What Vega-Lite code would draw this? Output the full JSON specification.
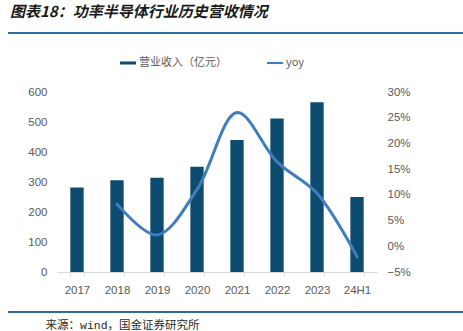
{
  "$schema": "https://vega.github.io/schema/vega-lite/v6.json",
  "autosize": "none",
  "width": 320,
  "height": 180,
  "padding": {"left": 57, "top": 92, "right": 86, "bottom": 59},
  "background": "white",
  "config": {
    "view": {"stroke": null},
    "font": "Liberation Sans",
    "axis": {"labelFont": "Liberation Sans", "labelColor": "#595959", "labelFontSize": 11.5}
  },
  "title": {
    "text": "图表18：功率半导体行业历史营收情况",
    "anchor": "start",
    "frame": "group",
    "font": "Noto Sans CJK SC",
    "fontSize": 15,
    "fontWeight": "bold",
    "fontStyle": "italic",
    "color": "#1a1a1a",
    "dx": -47,
    "offset": 12
  },
  "data": {
    "values": [
      {"year": "2017", "rev": 282, "yoy": null},
      {"year": "2018", "rev": 306, "yoy": 0.082},
      {"year": "2019", "rev": 314, "yoy": 0.022},
      {"year": "2020", "rev": 351, "yoy": 0.110},
      {"year": "2021", "rev": 440, "yoy": 0.260},
      {"year": "2022", "rev": 512, "yoy": 0.164},
      {"year": "2023", "rev": 566, "yoy": 0.103},
      {"year": "24H1", "rev": 250, "yoy": -0.020}
    ]
  },
  "layer": [
    {
      "mark": {"type": "rule", "color": "#336e98", "strokeWidth": 1.5},
      "encoding": {"x": {"value": -49}, "x2": {"value": 406}, "y": {"value": -59}}
    },
    {
      "mark": {"type": "rule", "color": "#336e98", "strokeWidth": 1.5},
      "encoding": {"x": {"value": -49}, "x2": {"value": 406}, "y": {"value": 220}}
    },
    {
      "mark": {"type": "bar"},
      "encoding": {
        "x": {
          "field": "year",
          "type": "nominal",
          "sort": null,
          "scale": {"paddingInner": 0.667, "paddingOuter": 0.333},
          "axis": {
            "title": "来源：wind，国金证券研究所",
            "titleFont": "'Liberation Mono', 'Noto Sans CJK SC'",
            "titleFontSize": 11.5,
            "titleFontWeight": "normal",
            "titleColor": "#2a2a2a",
            "titleAnchor": "start",
            "titleAlign": "left",
            "titleBaseline": "middle",
            "titleX": -12,
            "titleY": 53,
            "labelAngle": 0,
            "labelPadding": 8,
            "domainColor": "#d9d9d9",
            "tickColor": "#d9d9d9",
            "tickBand": "extent",
            "tickSize": 4,
            "grid": false
          }
        },
        "y": {
          "field": "rev",
          "type": "quantitative",
          "scale": {"domain": [0, 600], "nice": false},
          "axis": {"title": null, "values": [0, 100, 200, 300, 400, 500, 600], "grid": false, "domain": false, "ticks": false, "labelPadding": 10}
        },
        "color": {
          "datum": "营业收入（亿元）",
          "type": "nominal",
          "scale": {"domain": ["营业收入（亿元）", "yoy"], "range": ["#0d4b70", "#3f7dbf"]},
          "legend": {
            "title": null,
            "orient": "none",
            "direction": "horizontal",
            "legendX": 63,
            "legendY": -37,
            "labelFont": "Noto Sans CJK SC",
            "labelFontSize": 11,
            "labelColor": "#595959",
            "labelOffset": 3,
            "columnPadding": 40,
            "symbolSize": 256,
            "symbolStrokeWidth": 0,
            "symbolType": "M-1,-0.19H1V0.19H-1Z",
            "encode": {
              "symbols": {
                "update": {
                  "shape": {"signal": "datum.value === 'yoy' ? 'M-1,-0.13H1V0.13H-1Z' : 'M-1,-0.19H1V0.19H-1Z'"}
                }
              }
            }
          }
        }
      }
    },
    {
      "mark": {"type": "line", "interpolate": "catmull-rom", "strokeWidth": 3, "strokeCap": "round"},
      "encoding": {
        "x": {
          "field": "year",
          "type": "nominal",
          "sort": null,
          "scale": {"paddingInner": 0.667, "paddingOuter": 0.333},
          "axis": {
            "title": "来源：wind，国金证券研究所",
            "titleFont": "'Liberation Mono', 'Noto Sans CJK SC'",
            "titleFontSize": 11.5,
            "titleFontWeight": "normal",
            "titleColor": "#2a2a2a",
            "titleAnchor": "start",
            "titleAlign": "left",
            "titleBaseline": "middle",
            "titleX": -12,
            "titleY": 53,
            "labelAngle": 0,
            "labelPadding": 8,
            "domainColor": "#d9d9d9",
            "tickColor": "#d9d9d9",
            "tickBand": "extent",
            "tickSize": 4,
            "grid": false
          }
        },
        "y": {
          "field": "yoy",
          "type": "quantitative",
          "scale": {"domain": [-0.05, 0.30], "nice": false, "zero": false},
          "axis": {"title": null, "orient": "right", "format": ".0%", "values": [-0.05, 0, 0.05, 0.10, 0.15, 0.20, 0.25, 0.30], "grid": false, "domain": false, "ticks": false, "labelPadding": 10}
        },
        "color": {"datum": "yoy", "type": "nominal"}
      }
    }
  ],
  "resolve": {"scale": {"y": "independent"}, "axis": {"y": "independent"}}
}
